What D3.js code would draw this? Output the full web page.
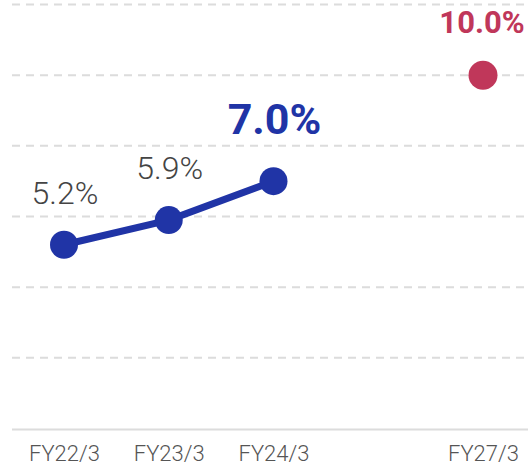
<!DOCTYPE html>
<html>
<head>
<meta charset="utf-8">
<script src="https://cdn.jsdelivr.net/npm/d3@7"></script>
<style>
  html, body { margin: 0; padding: 0; background: #fff; }
  svg { display: block; font-family: Roboto, "Noto Sans", sans-serif; }
</style>
</head>
<body>
<div id="chart"></div>
<script>
// data
var years = ["FY22/3", "FY23/3", "FY24/3", "FY27/3"];
var slots = [0, 1, 2, 4];          // FY27/3 sits two steps after FY24/3
var actual = [5.2, 5.9, 7.0];      // results
var target = [10.0];               // target for FY27/3
var gridTicks = [2, 4, 6, 8, 10, 12];

var width = 528, height = 468;
var blue = "#2034a6", red = "#c0375a";

var svg = d3.select("#chart").append("svg")
  .attr("width", width)
  .attr("height", height);

var x = d3.scaleLinear().domain([0, 4]).range([64, 483]);
var y = d3.scaleLinear().domain([0, 12]).range([428.5, 4.5]);

// grid
svg.append("g")
  .selectAll("line")
  .data(gridTicks)
  .join("line")
  .attr("x1", 12).attr("x2", width)
  .attr("y1", d => y(d)).attr("y2", d => y(d))
  .attr("stroke", "#dcdcdc")
  .attr("stroke-width", 2)
  .attr("stroke-dasharray", "8,6");

// x axis
var xaxis = d3.axisBottom(x)
  .tickValues(slots)
  .tickSize(0)
  .tickPadding(16)
  .tickFormat((d, i) => years[i]);

var g_xaxis = svg.append("g")
  .attr("transform", `translate(0,${y(0) + 1})`)
  .call(xaxis);
g_xaxis.select(".domain").remove();
g_xaxis.selectAll("text")
  .attr("font-size", 22)
  .attr("font-weight", 300)
  .attr("font-family", "Roboto, sans-serif")
  .attr("fill", "#555");

svg.append("line")
  .attr("x1", 12).attr("x2", width)
  .attr("y1", y(0) + 1).attr("y2", y(0) + 1)
  .attr("stroke", "#dcdcdc")
  .attr("stroke-width", 2);

// line for results
var pts = actual.map((v, i) => ({ slot: slots[i], value: v }));
var line = d3.line().x(d => x(d.slot)).y(d => y(d.value));

svg.append("path")
  .datum(pts)
  .attr("d", line)
  .attr("fill", "none")
  .attr("stroke", blue)
  .attr("stroke-width", 7);

svg.selectAll(".dot")
  .data(pts)
  .join("circle")
  .attr("class", "dot")
  .attr("cx", d => x(d.slot))
  .attr("cy", d => y(d.value))
  .attr("r", 14)
  .attr("fill", blue);

svg.selectAll(".lbl")
  .data(pts)
  .join("text")
  .attr("class", "lbl")
  .attr("x", d => x(d.slot) + 1)
  .attr("y", (d, i) => y(d.value) - (i == 2 ? 47 : 41))
  .attr("text-anchor", "middle")
  .attr("font-size", (d, i) => i == 2 ? 43 : 32)
  .attr("font-weight", (d, i) => i == 2 ? 700 : 300)
  .attr("fill", (d, i) => i == 2 ? blue : "#444")
  .text(d => d.value.toFixed(1) + "%");

// target
var tpts = target.map(v => ({ slot: slots[3], value: v }));
svg.selectAll(".tdot")
  .data(tpts)
  .join("circle")
  .attr("class", "tdot")
  .attr("cx", d => x(d.slot))
  .attr("cy", d => y(d.value))
  .attr("r", 14.5)
  .attr("fill", red);

svg.selectAll(".tlbl")
  .data(tpts)
  .join("text")
  .attr("class", "tlbl")
  .attr("x", d => x(d.slot) - 1)
  .attr("y", d => y(d.value) - 42)
  .attr("text-anchor", "middle")
  .attr("font-size", 31)
  .attr("font-weight", 700)
  .attr("fill", red)
  .text(d => d.value.toFixed(1) + "%");
</script>
</body>
</html>
